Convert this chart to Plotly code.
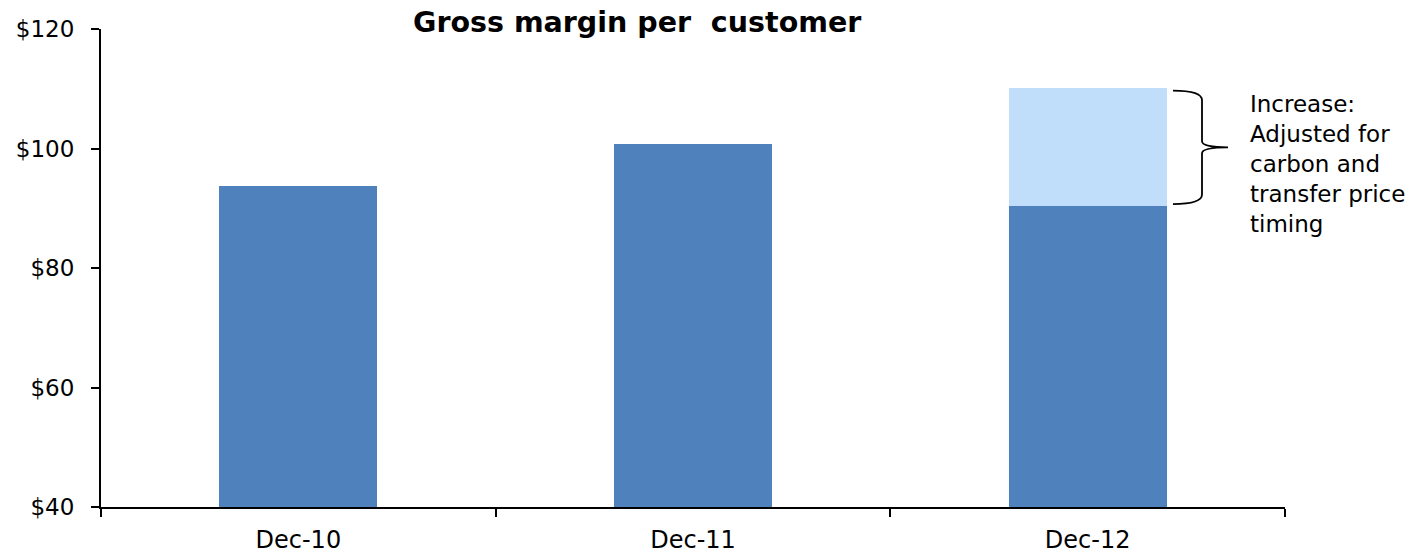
import plotly.graph_objects as go

# Gross margin per customer ($)
periods = ["Dec-10", "Dec-11", "Dec-12"]
reported = [93.7, 100.7, 90.3]
adjusted_total = [None, None, 110.1]
increase = [None if t is None else round(t - r, 2) for t, r in zip(adjusted_total, reported)]

note_text = "Increase:<br>Adjusted for<br>carbon and<br>transfer price<br>timing"

DARK = "#4F81BD"
LIGHT = "#C0DDFA"
FONT = "DejaVu Sans"

fig = go.Figure()
fig.add_trace(go.Bar(x=periods, y=reported, marker=dict(color=DARK, line=dict(width=0)),
                     width=0.4, showlegend=False, hoverinfo="y"))
fig.add_trace(go.Bar(x=periods, y=increase, marker=dict(color=LIGHT, line=dict(width=0)),
                     width=0.4, showlegend=False, hoverinfo="y"))

# curly brace next to the Dec-12 increase segment
top = adjusted_total[2] - 0.4
bot = reported[2] + 0.4
mid = (top + bot) / 2
x0, xv, xt = 0.9054, 0.9299, 0.9519
r, r2 = 1.6, 1.0
brace = (f"M {x0},{top} Q {xv},{top} {xv},{top - r} "
         f"L {xv},{mid + r2} Q {xv},{mid} {xt},{mid} "
         f"Q {xv},{mid} {xv},{mid - r2} "
         f"L {xv},{bot + r} Q {xv},{bot} {x0},{bot}")
fig.add_shape(type="path", path=brace, xref="paper", yref="y",
              line=dict(color="black", width=1.8))

fig.add_annotation(text=note_text, xref="paper", yref="paper", x=0.9687, y=0.7186,
                   xanchor="left", yanchor="middle", align="left", showarrow=False,
                   font=dict(family=FONT, size=23, color="black"))

fig.add_annotation(text="<b>Gross margin per  customer</b>", xref="paper", yref="paper",
                   x=0.453, y=1.0146, xanchor="center", yanchor="middle", showarrow=False,
                   font=dict(family=FONT, size=28.5, color="black"))

fig.update_layout(
    width=1419, height=553,
    margin=dict(l=101, r=134, t=29, b=46),
    barmode="stack",
    bargap=0.6,
    plot_bgcolor="white", paper_bgcolor="white",
    font=dict(family=FONT, size=22, color="black"),
    xaxis=dict(type="category", showline=True, linecolor="black", linewidth=2,
               ticks="outside", tickson="boundaries", ticklen=8, tickwidth=2,
               tickcolor="black", showgrid=False, zeroline=False, automargin=False,
               ticklabelstandoff=10, tickfont=dict(family=FONT, size=24)),
    yaxis=dict(range=[40, 120], dtick=20, tickprefix="$", showline=True,
               linecolor="black", linewidth=2, ticks="outside", ticklen=8, tickwidth=2,
               tickcolor="black", showgrid=False, zeroline=False, automargin=False,
               ticklabelstandoff=12, tickfont=dict(family=FONT, size=23)),
)

fig.write_html("out.html")
